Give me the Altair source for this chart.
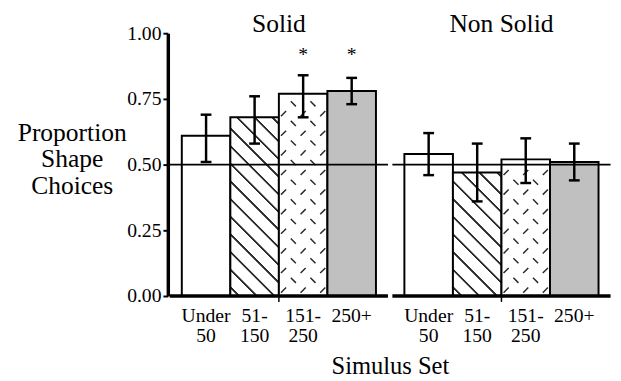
import altair as alt

GROUPS = ["Solid", "Non Solid"]
SETS = ["Under 50", "51-150", "151-250", "250+"]
SET_LINES = [["Under", "50"], ["51-", "150"], ["151-", "250"], ["250+"]]
SOLID_MEAN = [0.61, 0.68, 0.77, 0.78]
SOLID_LO = [0.51, 0.58, 0.68, 0.73]
SOLID_HI = [0.69, 0.76, 0.84, 0.83]
NONSOLID_MEAN = [0.54, 0.47, 0.52, 0.51]
NONSOLID_LO = [0.46, 0.36, 0.43, 0.44]
NONSOLID_HI = [0.62, 0.58, 0.60, 0.58]
SOLID_STARS = ["", "", "*", "*"]
NONSOLID_STARS = ["", "", "", ""]
Y_TICKS = [0, 0.25, 0.5, 0.75, 1.0]

FONT = "Liberation Serif"
INK = "#2a2a2a"
GRAY = "#c0c0c0"
H = 268
PANEL_W = 222.5
BAR_PX = 49.5
PAD_OUTER = (PANEL_W / BAR_PX - len(SETS)) / 2
BAR_W = PANEL_W / (len(SETS) + 2 * PAD_OUTER)


def hatch_gradient(value, spacing=18.0, line_w=1.3):
    """Diagonal '\\' stripes drawn with a bounding-box linear gradient."""
    w = BAR_W
    h = value * H
    den = w * w + h * h

    def t(s):
        return max(0.0, min(1.0, s * w / den))

    half = line_w * 2 ** 0.5 / 2
    soft = 0.8
    stops = [{"offset": 0.0, "color": "white"}]
    s = spacing / 2
    while s - half - soft < w + h:
        stops += [
            {"offset": t(s - half - soft), "color": "white"},
            {"offset": t(s - half), "color": INK},
            {"offset": t(s + half), "color": INK},
            {"offset": t(s + half + soft), "color": "white"},
        ]
        s += spacing
    stops.append({"offset": 1.0, "color": "white"})
    return {"gradient": "linear", "x1": 0, "y1": 1, "x2": 1, "y2": 1 - h / w, "stops": stops}


def dash_tiles(group, set_name, value):
    """Rows of staggered short dashes: the texture of the 151-250 bars."""
    h = value * H
    out = []
    j = 0
    y = 6.0
    while y <= h - 5:
        out.append({"kind": "tile", "group": group, "set": set_name,
                    "ty": y / H, "dir": "up" if j % 2 == 0 else "down"})
        j += 1
        y += 10.0
    return out


def dash_path(centers, up, half=2.6):
    parts = []
    for c in centers:
        if up:
            parts.append(f"M{c - half},{half}L{c + half},{-half}")
        else:
            parts.append(f"M{c - half},{-half}L{c + half},{half}")
    return "".join(parts)


rows = []
series = [
    ("Solid", SOLID_MEAN, SOLID_LO, SOLID_HI, SOLID_STARS),
    ("Non Solid", NONSOLID_MEAN, NONSOLID_LO, NONSOLID_HI, NONSOLID_STARS),
]
for g, means, los, his, stars in series:
    for i, s in enumerate(SETS):
        fill = ["white", None, "white", GRAY][i]
        if fill is None:
            fill = hatch_gradient(means[i])
        rows.append({"kind": "bar", "group": g, "set": s, "value": means[i],
                     "lo": los[i], "hi": his[i], "fill": fill, "star": stars[i]})
        if s == "151-250":
            rows += dash_tiles(g, s, means[i])

label_expr = " : ".join(
    f"datum.value == '{s}' ? {lines!r}" for s, lines in zip(SETS, SET_LINES)
) + " : datum.label"

x_axis = alt.Axis(title=None, domain=False, ticks=False, labelAngle=0,
                  labelFontSize=20, labelFont=FONT, labelColor="black",
                  labelPadding=3, labelBaseline="top", labelLineHeight=20,
                  labelExpr=label_expr)
y_axis = alt.Axis(values=Y_TICKS, format=".2f", grid=False,
                  domainWidth=3.5, domainColor="black", tickColor="black",
                  tickWidth=2, tickSize=5, labelFontSize=20, labelFont=FONT,
                  labelColor="black", labelPadding=2,
                  title=["Proportion", "Shape", "Choices"], titleAngle=0,
                  titleFontSize=26, titleFont=FONT, titleFontWeight="normal",
                  titleColor="black", titleAlign="center", titleBaseline="middle",
                  titleX=-98, titleY=101, titleLineHeight=27)
x_scale = alt.Scale(paddingInner=0, paddingOuter=PAD_OUTER)
y_scale = alt.Scale(domain=[0, 1])


def X():
    return alt.X("set:N", sort=SETS, scale=x_scale, axis=x_axis)


base = alt.Chart()

bars = base.transform_filter("datum.kind == 'bar'").mark_bar(
    stroke="black", strokeWidth=2
).encode(
    x=X(),
    y=alt.Y("value:Q", scale=y_scale, axis=y_axis),
    fill=alt.Fill("fill:N", scale=None),
)

tiles_up = base.transform_filter("datum.kind == 'tile' && datum.dir == 'up'").mark_point(
    shape=dash_path([-20, 0, 20], True), filled=False, stroke=INK,
    strokeWidth=1.5, size=4, opacity=1
).encode(x=X(), y=alt.Y("ty:Q", scale=y_scale, axis=y_axis))

tiles_down = base.transform_filter("datum.kind == 'tile' && datum.dir == 'down'").mark_point(
    shape=dash_path([-10, 10], False), filled=False, stroke=INK,
    strokeWidth=1.5, size=4, opacity=1
).encode(x=X(), y=alt.Y("ty:Q", scale=y_scale, axis=y_axis))

one_per_panel = "datum.kind == 'bar' && datum.set == 'Under 50'"

ref = base.transform_filter(one_per_panel).mark_rule(
    color="black", strokeWidth=1.8
).encode(y=alt.datum(0.5))

floor = base.transform_filter(one_per_panel).mark_rule(
    color="black", strokeWidth=3.5
).encode(y=alt.datum(0))

group_tick = base.transform_filter(one_per_panel).mark_rule(
    color="black", strokeWidth=1.5
).encode(x=alt.value(PANEL_W / 2), y=alt.value(H + 1), y2=alt.value(H + 6))

err = base.transform_filter("datum.kind == 'bar'").mark_rule(
    color="black", strokeWidth=2.5
).encode(x=X(), y=alt.Y("lo:Q", scale=y_scale, axis=y_axis), y2="hi:Q")

cap_lo = base.transform_filter("datum.kind == 'bar'").mark_tick(
    color="black", thickness=2.5, size=11, opacity=1
).encode(x=X(), y=alt.Y("lo:Q", scale=y_scale, axis=y_axis))

cap_hi = base.transform_filter("datum.kind == 'bar'").mark_tick(
    color="black", thickness=2.5, size=11, opacity=1
).encode(x=X(), y=alt.Y("hi:Q", scale=y_scale, axis=y_axis))

stars = base.transform_filter("datum.kind == 'bar' && datum.star != ''").mark_text(
    font=FONT, fontSize=20, color="black", baseline="alphabetic"
).encode(x=X(), y=alt.datum(0.893), text="star:N")

layered = alt.layer(
    bars, tiles_up, tiles_down, ref, floor, group_tick, err, cap_lo, cap_hi, stars,
    data=alt.Data(values=rows),
).properties(width=PANEL_W, height=H)

chart = layered.facet(
    column=alt.Column(
        "group:N", sort=GROUPS, title="Simulus Set",
        header=alt.Header(labelOrient="top", labelFontSize=26, labelFont=FONT,
                          labelColor="black", labelPadding=-4,
                          titleOrient="bottom", titleFontSize=25, titleFont=FONT,
                          titleFontWeight="normal", titleColor="black",
                          titlePadding=0),
    ),
    spacing=0,
).properties(
    padding={"left": 9, "top": 0, "right": 0, "bottom": 0}
).configure(font=FONT).configure_view(stroke=None)

chart.save("out.html", embed_options={"renderer": "svg", "actions": False})
